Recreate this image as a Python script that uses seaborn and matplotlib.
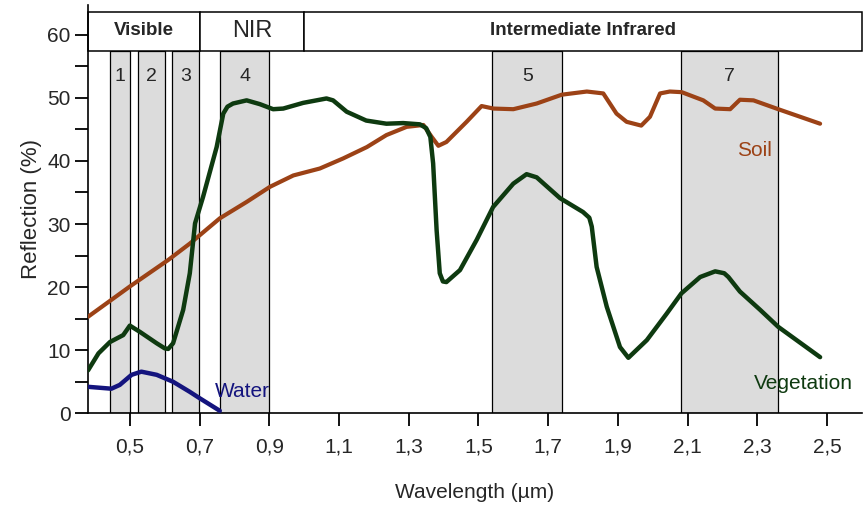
import matplotlib
matplotlib.use("Agg")
import matplotlib.pyplot as plt
from matplotlib.patches import Rectangle
import seaborn as sns
import pandas as pd

# ---- data ----
veg_x = [0.380, 0.410, 0.443, 0.481, 0.500, 0.529, 0.577, 0.600, 0.610, 0.624, 0.653, 0.672, 0.687, 0.710,
         0.749, 0.768, 0.780, 0.796, 0.835, 0.873, 0.911, 0.940, 0.997, 1.064, 1.083, 1.122, 1.178,
         1.236, 1.284, 1.332, 1.350, 1.362, 1.370, 1.380, 1.389, 1.398, 1.408, 1.447, 1.495, 1.542, 1.600,
         1.638, 1.667, 1.734, 1.800, 1.818, 1.825, 1.839, 1.868, 1.906, 1.930, 1.983, 2.040, 2.082,
         2.136, 2.179, 2.205, 2.217, 2.250, 2.308, 2.360, 2.480]
veg_y = [6.8, 9.5, 11.3, 12.4, 13.9, 12.9, 11.1, 10.3, 10.2, 11.1, 16.4, 22.2, 30.1, 34.3,
         42.2, 47.5, 48.6, 49.1, 49.6, 49.0, 48.2, 48.3, 49.2, 49.9, 49.6, 47.8, 46.4,
         45.9, 46.0, 45.8, 45.2, 43.8, 39.6, 29.0, 22.2, 20.9, 20.8, 22.7, 27.5, 32.7, 36.4,
         37.9, 37.4, 34.1, 31.9, 31.0, 29.6, 23.2, 16.9, 10.5, 8.8, 11.6, 15.8, 19.0,
         21.6, 22.5, 22.2, 21.6, 19.3, 16.4, 13.7, 8.9]

soil_x = [0.380, 0.500, 0.610, 0.672, 0.758, 0.835, 0.902, 0.969, 1.045, 1.112, 1.180, 1.236,
          1.294, 1.342, 1.366, 1.385, 1.408, 1.466, 1.509, 1.543, 1.600, 1.667, 1.739, 1.811,
          1.858, 1.896, 1.925, 1.967, 1.992, 2.021, 2.049, 2.083, 2.145, 2.179, 2.222, 2.250,
          2.289, 2.360, 2.480]
soil_y = [15.3, 20.1, 24.3, 26.9, 30.9, 33.5, 35.9, 37.7, 38.8, 40.4, 42.2, 44.1,
          45.4, 45.7, 43.8, 42.4, 43.0, 46.2, 48.7, 48.3, 48.2, 49.1, 50.5, 51.0,
          50.7, 47.5, 46.2, 45.6, 47.0, 50.7, 51.0, 50.9, 49.6, 48.3, 48.2, 49.7,
          49.6, 48.2, 45.9]

water_x = [0.380, 0.447, 0.471, 0.505, 0.533, 0.577, 0.624, 0.672, 0.700, 0.758]
water_y = [4.2, 3.9, 4.5, 6.1, 6.6, 6.1, 5.0, 3.4, 2.4, 0.4]

band_names = ["1", "2", "3", "4", "5", "7"]
band_lo = [0.443, 0.522, 0.622, 0.760, 1.540, 2.082]
band_hi = [0.500, 0.602, 0.699, 0.900, 1.740, 2.360]

region_names = ["Visible", "NIR", "Intermediate Infrared"]
region_lo = [0.38, 0.70, 1.00]
region_hi = [0.70, 1.00, 2.60]

xtick_vals = [0.5, 0.7, 0.9, 1.1, 1.3, 1.5, 1.7, 1.9, 2.1, 2.3, 2.5]
xtick_labels = ["0,5", "0,7", "0,9", "1,1", "1,3", "1,5", "1,7", "1,9", "2,1", "2,3", "2,5"]
ytick_vals = [0, 10, 20, 30, 40, 50, 60]

# ---- style ----
sns.set_style("ticks")
plt.rcParams['font.family'] = ['Liberation Sans', 'DejaVu Sans']

fig = plt.figure(figsize=(8.68, 5.09), dpi=100)
ax = fig.add_axes([0.1014, 0.188, 0.8916, 0.802])
ax.set_xlim(0.38, 2.60)
ax.set_ylim(0, 64.7)

HB = 57.5
HT = 63.6

for lo, hi, nm in zip(band_lo, band_hi, band_names):
    ax.add_patch(Rectangle((lo, 0), hi - lo, HB, facecolor="#dcdcdc", edgecolor="black",
                           linewidth=0.9, zorder=1))
    ax.text((lo + hi) / 2, 53.4, nm, ha="center", va="center", fontsize=14, zorder=2)

for lo, hi, nm in zip(region_lo, region_hi, region_names):
    ax.add_patch(Rectangle((lo, HB), hi - lo, HT - HB, facecolor="white", edgecolor="black",
                           linewidth=1.1, zorder=2, clip_on=False))
    if nm == "NIR":
        ax.text((lo + hi) / 2, (HB + HT) / 2, nm, ha="center", va="center", fontsize=17, zorder=3)
    else:
        ax.text((lo + hi) / 2, (HB + HT) / 2 + 0.2, nm, ha="center", va="center", fontsize=13.5,
                fontweight="bold", zorder=3)

veg = pd.DataFrame({"x": veg_x, "y": veg_y})
soil = pd.DataFrame({"x": soil_x, "y": soil_y})
water = pd.DataFrame({"x": water_x, "y": water_y})

kw = dict(sort=False, solid_joinstyle="round", solid_capstyle="round")
sns.lineplot(data=soil, x="x", y="y", ax=ax, color="#9c4216", linewidth=3.0, zorder=4, **kw)
sns.lineplot(data=veg, x="x", y="y", ax=ax, color="#0e3a10", linewidth=3.2, zorder=5, **kw)
sns.lineplot(data=water, x="x", y="y", ax=ax, color="#14147e", linewidth=3.2, zorder=5, **kw)

ax.text(0.744, 3.4, "Water", color="#14147e", fontsize=15, ha="left", va="center", zorder=6)
ax.text(2.293, 41.7, "Soil", color="#9c4216", fontsize=15, ha="center", va="center", zorder=6)
ax.text(2.431, 4.8, "Vegetation", color="#0e3a10", fontsize=15, ha="center", va="center", zorder=6)

ax.set_xticks(xtick_vals)
ax.set_xticklabels(xtick_labels)
ax.set_yticks(ytick_vals)
ax.set_yticks([5, 15, 25, 35, 45, 55], minor=True)
ax.tick_params(axis="both", which="both", direction="out", length=9.5, width=1.3,
               labelsize=15, color="black")
ax.tick_params(axis="x", pad=8)
ax.tick_params(axis="y", pad=3)

ax.set_xlabel("Wavelength (µm)", fontsize=15, labelpad=19)
ax.set_ylabel("Reflection (%)", fontsize=16, labelpad=4)

for s in ["top", "right"]:
    ax.spines[s].set_visible(False)
for s in ["left", "bottom"]:
    ax.spines[s].set_linewidth(1.2)
    ax.spines[s].set_color("black")

fig.savefig("out.png", dpi=100)
